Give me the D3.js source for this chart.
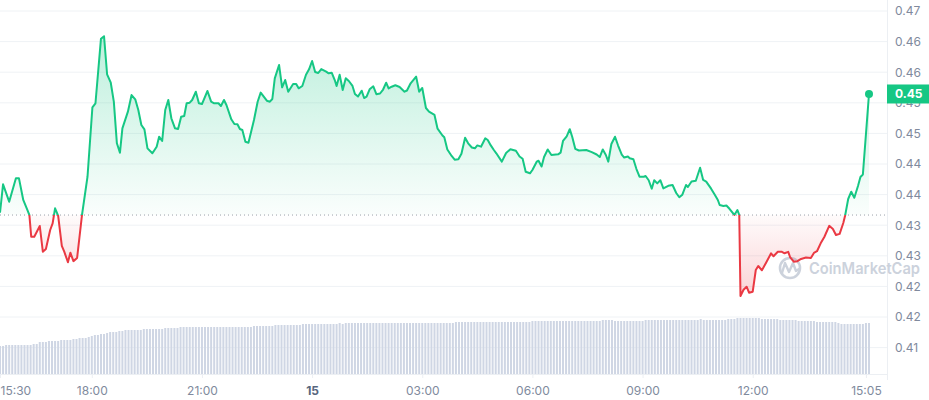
<!DOCTYPE html>
<html>
<head>
<meta charset="utf-8">
<script src="https://cdn.jsdelivr.net/npm/d3@7"></script>
<style>
html,body{margin:0;padding:0;background:#fff;}
svg{display:block;font-family:Inter,"Noto Sans",sans-serif;}
</style>
</head>
<body>
<svg id="chart" width="929" height="400"></svg>
<script>
// ---------------- DATA ----------------
const startTime = "2024-05-14 15:30";
const endTime   = "2024-05-15 15:10";
const openPrice = 0.43166;   // reference (dotted) price
const lastLabel = "0.45";

// minutes after startTime for each price point
const timeOffsetsMin = [0,5,15,26,31,38,44,48,51,56,65,70,75,82,86,90,95,101,105,111,115,120,126,134,143,151,156,165,170,175,181,186,191,196,200,209,215,221,226,231,236,241,249,256,260,265,270,275,280,286,291,296,301,305,310,314,320,325,330,339,345,350,357,361,366,370,378,383,388,392,396,401,406,415,421,426,436,441,445,449,456,461,466,471,479,484,488,494,500,505,510,515,520,525,533,537,542,547,550,555,560,565,570,576,580,585,591,595,599,604,610,615,621,626,631,635,640,646,653,661,665,671,680,685,690,696,701,710,715,723,726,731,738,743,749,754,760,765,771,776,780,786,793,797,802,807,811,820,827,834,843,849,854,859,866,870,877,880,885,889,895,901,912,916,920,926,931,935,940,946,958,967,975,980,985,990,994,999,1005,1010,1016,1020,1026,1029,1035,1040,1045,1052,1055,1060,1065,1069,1074,1079,1084,1092,1099,1105,1110,1115,1121,1124,1130,1137,1144,1149,1154,1162,1168,1173,1176,1182,1187,1192,1200,1205,1208,1210,1215,1220,1224,1230,1235,1239,1245,1252,1260,1264,1271,1277,1282,1288,1291,1297,1303,1309,1317,1325,1330,1335,1341,1347,1355,1361,1366,1372,1378,1381,1386,1391,1396,1402,1406,1410,1420];

const prices = [0.43204,0.43668,0.43384,0.43766,0.43766,0.43412,0.43265,0.43167,0.42812,0.42812,0.42987,0.42567,0.42611,0.42922,0.43031,0.43276,0.43155,0.42664,0.42567,0.42394,0.42551,0.42413,0.42465,0.43167,0.43792,0.44927,0.44992,0.46048,0.46088,0.45466,0.45328,0.45018,0.44338,0.44185,0.44583,0.44855,0.45127,0.45057,0.44882,0.44637,0.44567,0.44256,0.44175,0.44283,0.44446,0.44376,0.44882,0.45046,0.44747,0.44583,0.44572,0.44773,0.44784,0.44992,0.45002,0.45046,0.45181,0.44992,0.44980,0.45193,0.45018,0.44992,0.44992,0.44948,0.45046,0.44964,0.44730,0.44654,0.44649,0.44572,0.44556,0.44364,0.44348,0.44719,0.45018,0.45167,0.45034,0.45018,0.45062,0.45400,0.45618,0.45253,0.45372,0.45181,0.45307,0.45307,0.45237,0.45275,0.45458,0.45547,0.45683,0.45503,0.45487,0.45552,0.45508,0.45482,0.45492,0.45372,0.45275,0.45459,0.45209,0.45400,0.45356,0.45275,0.45144,0.45103,0.45198,0.45078,0.45100,0.45221,0.45270,0.45141,0.45152,0.45217,0.45328,0.45234,0.45263,0.45286,0.45258,0.45181,0.45201,0.45319,0.45427,0.45181,0.45242,0.44915,0.44855,0.44801,0.44577,0.44466,0.44436,0.44237,0.44131,0.44070,0.44077,0.44166,0.44430,0.44338,0.44270,0.44256,0.44304,0.44283,0.44420,0.44392,0.44304,0.44229,0.44175,0.44038,0.44180,0.44242,0.44217,0.44122,0.44085,0.43874,0.43848,0.43902,0.44038,0.44053,0.43959,0.44114,0.44237,0.44147,0.44158,0.44185,0.44376,0.44453,0.44569,0.44446,0.44248,0.44221,0.44229,0.44193,0.44155,0.44114,0.44237,0.44147,0.44038,0.44327,0.44446,0.44302,0.44155,0.44106,0.44122,0.44093,0.44077,0.43918,0.43792,0.43792,0.43804,0.43735,0.43597,0.43735,0.43683,0.43735,0.43602,0.43644,0.43657,0.43526,0.43456,0.43498,0.43657,0.43624,0.43713,0.43727,0.43938,0.43740,0.43713,0.43597,0.43498,0.43412,0.43330,0.43314,0.43322,0.43268,0.43167,0.43248,0.43167,0.41843,0.41946,0.41995,0.41897,0.41913,0.42268,0.42333,0.42263,0.42390,0.42541,0.42492,0.42567,0.42567,0.42541,0.42565,0.42480,0.42404,0.42412,0.42448,0.42472,0.42464,0.42546,0.42575,0.42704,0.42807,0.42990,0.42938,0.42840,0.42859,0.43036,0.43158,0.43428,0.43547,0.43448,0.43640,0.43788,0.43828,0.45144];

// volume (M), one bar every 5 minutes from startTime
const volumeStepMin = 5;
const volumes = [7,7,7.25,7.25,7.25,7.25,7.25,7.25,7.25,7.25,7.25,7.5,7.5,8,8,8,8.25,8.25,8.25,8.25,8.5,8.5,8.5,8.5,8.75,8.75,9,9,9,9.25,9.5,9.75,9.75,10,10,10.25,10.5,10.5,10.5,10.75,10.75,11,11,11,11,11,11,11.25,11.25,11.25,11.25,11.25,11.25,11.25,11.5,11.5,11.5,11.5,11.5,
11.75,11.75,11.75,11.75,11.75,11.75,11.75,11.75,11.75,11.75,11.75,11.75,11.75,11.75,11.75,11.75,11.75,11.75,11.75,11.75,11.75,11.75,11.75,11.75,
12,12,12,12,12,12,12,12.25,12.25,12.25,12.25,12.25,12.25,12.25,12.25,12.25,
12.5,12.5,12.5,12.5,12.5,12.5,12.5,12.5,12.5,12.5,12.5,12.5,12.75,12.5,
12.75,12.75,12.75,12.75,12.75,12.75,12.75,12.75,12.75,12.75,12.75,12.75,12.75,12.75,12.75,12.75,12.75,12.75,12.75,12.75,12.75,12.75,12.75,12.75,12.75,12.75,12.75,12.75,12.75,12.75,12.75,12.75,12.75,12.75,12.75,12.75,
13,13,13,13,13,13,13,13,13,13,13,13,13,13,13,13,13,13,13,13,13,13,13,13,13,
13.25,13.25,13.25,13.25,13.25,13.25,13.25,13.25,13.25,13.25,13.25,13.25,13.25,13.25,13.25,13.25,13.25,13.25,13.25,13.25,13.25,13.25,13.25,
13.5,13.5,13.5,13.5,13.25,13.25,13.25,13.25,13.25,13.25,13.25,13.25,13.25,13.25,
13.5,13.5,13.5,13.5,13.5,13.5,13.5,13.5,13.5,13.5,13.5,13.5,13.5,13.5,13.5,13.5,13.5,13.5,13.75,
13.5,13.5,13.5,13.5,13.5,13.5,13.5,13.5,13.75,13.75,13.75,
14,14,14,14,14,14,14,14,13.75,13.75,13.75,13.75,13.75,13.75,
13.5,13.5,13.5,13.5,13.5,13.5,13.25,13.25,13.25,13.25,13.25,13.25,
13,13,13,13,13,13,13,12.75,12.5,12.5,12.5,12.5,12.5,12.5,12.5,12.5,12.75,12.75];

const yTickValues = [0.465,0.46,0.455,0.45,0.445,0.44,0.435,0.43,0.425,0.42,0.415,0.41];
const yTickLabels = ["0.47","0.46","0.46","0.45","0.45","0.44","0.44","0.43","0.43","0.42","0.42","0.41"];

const xTickTimes  = ["2024-05-14 15:30","2024-05-14 18:00","2024-05-14 21:00","2024-05-15 00:00","2024-05-15 03:00","2024-05-15 06:00","2024-05-15 09:00","2024-05-15 12:00","2024-05-15 15:05"];
const xTickLabels = ["15:30","18:00","21:00","15","03:00","06:00","09:00","12:00","15:05"];

// ---------------- CHART ----------------
const parse = d3.timeParse("%Y-%m-%d %H:%M");
const t0 = parse(startTime), t1 = parse(endTime);
const MIN = 60000;
const series = prices.map((p,i)=>({t:new Date(t0.getTime()+timeOffsetsMin[i]*MIN), p}));
const volData = volumes.map((v,i)=>({t:new Date(t0.getTime()+i*volumeStepMin*MIN), v}));

const GREEN="#16c784", RED="#ea3943";
const plotRight = 887, axisY = 374;

const svg = d3.select("#chart");
const x = d3.scaleTime().domain([t0,t1]).range([0,869]);
const y = d3.scaleLinear().domain([0.41,0.465]).range([347.6,11]);
const yVol = d3.scaleLinear().domain([0,14]).range([axisY,318]);
const yBase = y(openPrice);

const defs = svg.append("defs");
const gG = defs.append("linearGradient").attr("id","gGreen").attr("gradientUnits","userSpaceOnUse")
  .attr("x1",0).attr("x2",0).attr("y1",y(d3.max(prices))).attr("y2",yBase);
gG.append("stop").attr("offset","0%").attr("stop-color",GREEN).attr("stop-opacity",0.28);
gG.append("stop").attr("offset","100%").attr("stop-color",GREEN).attr("stop-opacity",0.02);
const gR = defs.append("linearGradient").attr("id","gRed").attr("gradientUnits","userSpaceOnUse")
  .attr("x1",0).attr("x2",0).attr("y1",yBase).attr("y2",y(d3.min(prices)));
gR.append("stop").attr("offset","0%").attr("stop-color",RED).attr("stop-opacity",0.02);
gR.append("stop").attr("offset","100%").attr("stop-color",RED).attr("stop-opacity",0.22);
defs.append("clipPath").attr("id","clipUp").append("rect").attr("x",-5).attr("y",0).attr("width",900).attr("height",yBase);
defs.append("clipPath").attr("id","clipDown").append("rect").attr("x",-5).attr("y",yBase).attr("width",900).attr("height",400-yBase);

// grid lines
svg.append("g").selectAll("line").data(yTickValues).join("line")
  .attr("x1",0).attr("x2",plotRight).attr("y1",d=>y(d)).attr("y2",d=>y(d))
  .attr("stroke","#eff2f5").attr("stroke-width",1);

// volume bars
svg.append("g").selectAll("rect").data(volData).join("rect")
  .attr("x",d=>x(d.t)-1).attr("width",2)
  .attr("y",d=>yVol(d.v)).attr("height",d=>axisY-yVol(d.v))
  .attr("fill","#cfd6e4");

// axis frame
svg.append("line").attr("x1",0).attr("x2",plotRight).attr("y1",axisY+0.5).attr("y2",axisY+0.5).attr("stroke","#eceff3");
svg.append("line").attr("x1",plotRight+0.5).attr("x2",plotRight+0.5).attr("y1",0).attr("y2",380).attr("stroke","#eceff3");

// watermark
const wm = svg.append("g");
wm.append("circle").attr("cx",790).attr("cy",268).attr("r",10).attr("fill","none").attr("stroke","#ccd2dc").attr("stroke-width",2.6);
wm.append("path").attr("d","M782,273 L785,263 L789,272 L793,263 L796,271 L799,269")
  .attr("fill","none").attr("stroke","#ccd2dc").attr("stroke-width",2.4).attr("stroke-linejoin","round").attr("stroke-linecap","round");
wm.append("text").attr("x",809).attr("y",274).attr("font-size",16).attr("font-weight",600)
  .attr("textLength",111).attr("lengthAdjust","spacingAndGlyphs")
  .attr("fill","#ccd2dc").text("CoinMarketCap");

// areas
const area = d3.area().x(d=>x(d.t)).y0(yBase).y1(d=>y(d.p));
svg.append("path").datum(series).attr("d",area).attr("fill","url(#gGreen)").attr("clip-path","url(#clipUp)");
svg.append("path").datum(series).attr("d",area).attr("fill","url(#gRed)").attr("clip-path","url(#clipDown)");

// baseline
svg.append("line").attr("x1",0).attr("x2",plotRight).attr("y1",yBase).attr("y2",yBase)
  .attr("stroke","#9aa0aa").attr("stroke-width",1).attr("stroke-dasharray","1,3");

// price line
const line = d3.line().x(d=>x(d.t)).y(d=>y(d.p));
svg.append("path").datum(series).attr("d",line).attr("fill","none").attr("stroke",GREEN)
  .attr("stroke-width",2).attr("stroke-linejoin","round").attr("clip-path","url(#clipUp)");
svg.append("path").datum(series).attr("d",line).attr("fill","none").attr("stroke",RED)
  .attr("stroke-width",2).attr("stroke-linejoin","round").attr("clip-path","url(#clipDown)");

const last = series[series.length-1];
svg.append("circle").attr("cx",x(last.t)).attr("cy",y(last.p)).attr("r",4).attr("fill",GREEN);

// y axis labels (right)
const yAxis = d3.axisRight(y).tickValues(yTickValues).tickSize(0).tickPadding(8)
  .tickFormat((d,i)=>yTickLabels[i]);
const gy = svg.append("g").attr("transform",`translate(${plotRight},0)`).call(yAxis);
gy.select(".domain").remove();
gy.selectAll("text").attr("font-size",12).attr("fill","#808a9d").attr("font-family","Inter,sans-serif");

// last price badge
svg.append("rect").attr("x",plotRight).attr("y",y(last.p)-9.5).attr("width",929-plotRight).attr("height",19).attr("fill",GREEN);
svg.append("text").attr("x",plotRight+8).attr("y",y(last.p)+4.3).attr("font-size",12).attr("font-weight",700)
  .attr("fill","#fff").text(lastLabel);

// x axis
const xTicks = xTickTimes.map(parse);
const xAxis = d3.axisBottom(x).tickValues(xTicks).tickSize(4).tickPadding(8)
  .tickFormat((d,i)=>xTickLabels[i]);
const gx = svg.append("g").attr("transform",`translate(0,${axisY})`).call(xAxis);
gx.select(".domain").remove();
gx.selectAll(".tick line").attr("stroke","#eceff3");
gx.selectAll("text").attr("font-size",12).attr("font-family","Inter,sans-serif")
  .attr("font-weight",(d,i)=>xTickLabels[i]==="15"?700:400)
  .attr("fill",(d,i)=>xTickLabels[i]==="15"?"#58667e":"#808a9d");
gx.selectAll(".tick").filter((d,i)=>i===0).select("text").attr("text-anchor","start").attr("x",0);
</script>
</body>
</html>
